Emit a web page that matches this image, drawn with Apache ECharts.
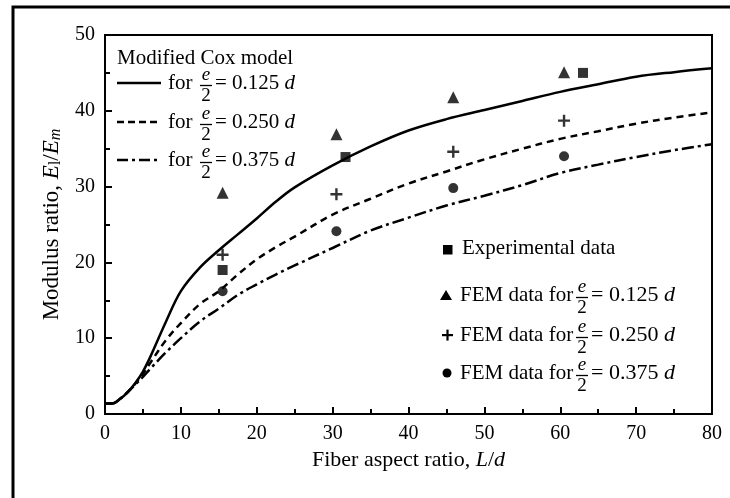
<!DOCTYPE html>
<html><head><meta charset="utf-8">
<script src="https://cdn.jsdelivr.net/npm/echarts@6/dist/echarts.min.js"></script>
<style>html,body{margin:0;padding:0;background:#fff}#c{width:730px;height:498px}</style>
</head><body><div id="c"></div>
<script>
// Fiber aspect ratio L/d samples for the model curves
const xSamples = [0, 1, 2, 3, 4, 5, 6, 8, 10, 12.5, 15, 17.5, 20, 22.5, 25, 30, 35, 40, 45, 50, 55, 60, 65, 70, 75, 80];
// Modified Cox model, e/2 = 0.125 d (solid)
const cox0125 = [1.4, 1.4, 2.0, 2.9, 4.1, 5.6, 7.6, 12.1, 16.2, 19.3, 21.6, 23.7, 25.8, 28.0, 29.9, 32.8, 35.3, 37.4, 38.9, 40.1, 41.3, 42.5, 43.5, 44.5, 45.1, 45.6];
// e/2 = 0.250 d (dashed)
const cox0250 = [1.4, 1.4, 2.0, 2.9, 4.0, 5.3, 6.8, 9.7, 12.0, 14.5, 16.2, 18.4, 20.4, 22.0, 23.4, 26.3, 28.4, 30.4, 32.0, 33.6, 35.0, 36.3, 37.3, 38.3, 39.1, 39.8];
// e/2 = 0.375 d (dash-dot)
const cox0375 = [1.4, 1.4, 2.0, 2.9, 3.9, 4.9, 6.0, 8.1, 10.0, 12.2, 13.9, 15.7, 17.1, 18.4, 19.6, 21.9, 24.2, 25.9, 27.5, 28.8, 30.2, 31.8, 32.9, 33.9, 34.8, 35.6];

const expX = [15.5, 31.7, 63.0];
const expY = [19.0, 33.9, 45.0];
const femX = [15.5, 30.5, 45.9, 60.5];
const fem0125 = [29.2, 36.9, 41.8, 45.1];
const fem0250 = [21.0, 29.0, 34.6, 38.7];
const fem0375 = [16.2, 24.1, 29.8, 34.0];

const xTicks = [0, 10, 20, 30, 40, 50, 60, 70, 80];
const yTicks = [0, 10, 20, 30, 40, 50];

const FONT = '"Liberation Serif", "Times New Roman", serif';
const pairs = (xs, ys) => xs.map((x, i) => [x, ys[i]]);

const chart = echarts.init(document.getElementById('c'), null, {renderer: 'canvas'});

function equation(xStart, fracX, eqX, y, prefixText, valueText, eqSize) {
  const els = [];
  els.push({type: 'text', x: xStart, y: y, style: {text: prefixText, font: '21px ' + FONT, fill: '#000', textVerticalAlign: 'middle', textAlign: 'left'}});
  els.push({type: 'text', x: fracX, y: y + 1, style: {text: 'e', font: 'italic 19px ' + FONT, fill: '#000', textVerticalAlign: 'bottom', textAlign: 'center'}});
  els.push({type: 'line', shape: {x1: fracX - 6, y1: y + 2.5, x2: fracX + 6, y2: y + 2.5}, style: {stroke: '#000', lineWidth: 1.3}});
  els.push({type: 'text', x: fracX, y: y + 3.5, style: {text: '2', font: '19px ' + FONT, fill: '#000', textVerticalAlign: 'top', textAlign: 'center'}});
  els.push({type: 'text', x: eqX, y: y, style: {text: '= ' + valueText + ' {i|d}', font: eqSize + 'px ' + FONT, fill: '#000', textVerticalAlign: 'middle', textAlign: 'left', rich: {i: {fontStyle: 'italic', fontSize: eqSize, fontFamily: FONT}}}});
  return els;
}

const graphics = [];
// outer frame
graphics.push({type: 'rect', shape: {x: 13, y: 7, width: 800, height: 600}, style: {fill: 'none', stroke: '#000', lineWidth: 3}, z: 100});
// top-left legend
graphics.push({type: 'text', x: 117, y: 58, style: {text: 'Modified Cox model', font: '21px ' + FONT, fill: '#000', textVerticalAlign: 'middle'}});
const legRows = [
  {y: 83, dash: null, v: '0.125'},
  {y: 122, dash: [7, 4], v: '0.250'},
  {y: 160, dash: [11, 4, 3, 4], v: '0.375'}
];
legRows.forEach(r => {
  graphics.push({type: 'line', shape: {x1: 117, y1: r.y, x2: 161, y2: r.y}, style: {stroke: '#000', lineWidth: 2.5, lineDash: r.dash}});
  equation(168, 206, 215, r.y, 'for', r.v, 21).forEach(e => graphics.push(e));
});
// right legend
graphics.push({type: 'rect', shape: {x: 443, y: 245, width: 9.5, height: 9.5}, style: {fill: '#000'}});
graphics.push({type: 'text', x: 462, y: 248, style: {text: 'Experimental data', font: '21px ' + FONT, fill: '#000', textVerticalAlign: 'middle'}});
graphics.push({type: 'polygon', shape: {points: [[446, 290], [452, 300], [440, 300]]}, style: {fill: '#000'}});
equation(460, 582, 591, 295, 'FEM data for', '0.125', 22).forEach(e => graphics.push(e));
graphics.push({type: 'rect', shape: {x: 442, y: 334, width: 11, height: 2.2}, style: {fill: '#000'}});
graphics.push({type: 'rect', shape: {x: 446.4, y: 329.6, width: 2.2, height: 11}, style: {fill: '#000'}});
equation(460, 582, 591, 335, 'FEM data for', '0.250', 22).forEach(e => graphics.push(e));
graphics.push({type: 'circle', shape: {cx: 447, cy: 373, r: 4.5}, style: {fill: '#000'}});
equation(460, 582, 591, 373, 'FEM data for', '0.375', 22).forEach(e => graphics.push(e));

const axisCommon = {
  axisLine: {show: true, lineStyle: {color: '#000', width: 2}},
  axisTick: {show: true, inside: true, length: 7, lineStyle: {color: '#000', width: 2}},
  minorTick: {show: true, splitNumber: 2, length: 5, lineStyle: {color: '#000', width: 2}},
  splitLine: {show: false},
  axisLabel: {color: '#000', fontFamily: FONT, fontSize: 20, margin: 10},
  nameLocation: 'middle',
  nameTextStyle: {color: '#000', fontFamily: FONT, fontSize: 21}
};

const plusPath = 'path://M4,0h2v4h4v2h-4v4h-2v-4h-4v-2h4z';

chart.setOption({
  animation: false,
  backgroundColor: '#fff',
  grid: {left: 105, right: 18, top: 35, bottom: 84, show: true, borderColor: '#000', borderWidth: 2, backgroundColor: 'transparent'},
  xAxis: Object.assign({}, axisCommon, {
    type: 'value', min: xTicks[0], max: xTicks[xTicks.length - 1], interval: 10,
    name: 'Fiber aspect ratio, {i|L}/{i|d}', nameGap: 35,
    nameTextStyle: Object.assign({}, axisCommon.nameTextStyle, {fontSize: 22, rich: {i: {fontStyle: 'italic', fontFamily: FONT, fontSize: 22, color: '#000'}}})
  }),
  yAxis: Object.assign({}, axisCommon, {
    type: 'value', min: yTicks[0], max: yTicks[yTicks.length - 1], interval: 10,
    name: 'Modulus ratio, {i|E}{s|l}/{i|E}{sm|m}', nameGap: 41,
    nameTextStyle: Object.assign({}, axisCommon.nameTextStyle, {fontSize: 23, rich: {
      i: {fontStyle: 'italic', fontFamily: FONT, fontSize: 23, color: '#000'},
      s: {fontFamily: FONT, fontSize: 16, color: '#000', padding: [9, 0, 0, 0]},
      sm: {fontStyle: 'italic', fontFamily: FONT, fontSize: 16, color: '#000', padding: [9, 0, 0, 0]}
    }})
  }),
  graphic: graphics,
  series: [
    {type: 'line', name: 'Cox 0.125', data: pairs(xSamples, cox0125), symbol: 'none', smooth: 0.35, lineStyle: {color: '#000', width: 2.5}},
    {type: 'line', name: 'Cox 0.250', data: pairs(xSamples, cox0250), symbol: 'none', smooth: 0.35, lineStyle: {color: '#000', width: 2.5, type: [7, 5]}},
    {type: 'line', name: 'Cox 0.375', data: pairs(xSamples, cox0375), symbol: 'none', smooth: 0.35, lineStyle: {color: '#000', width: 2.5, type: [12, 4, 3, 4]}},
    {type: 'scatter', name: 'Experimental data', data: pairs(expX, expY), symbol: 'rect', symbolSize: 10, itemStyle: {color: '#000'}},
    {type: 'scatter', name: 'FEM 0.125', data: pairs(femX, fem0125), symbol: 'triangle', symbolSize: 12, itemStyle: {color: '#000'}},
    {type: 'scatter', name: 'FEM 0.250', data: pairs(femX, fem0250), symbol: plusPath, symbolSize: 12, itemStyle: {color: '#000'}},
    {type: 'scatter', name: 'FEM 0.375', data: pairs(femX, fem0375), symbol: 'circle', symbolSize: 10, itemStyle: {color: '#000'}}
  ]
});
</script></body></html>
